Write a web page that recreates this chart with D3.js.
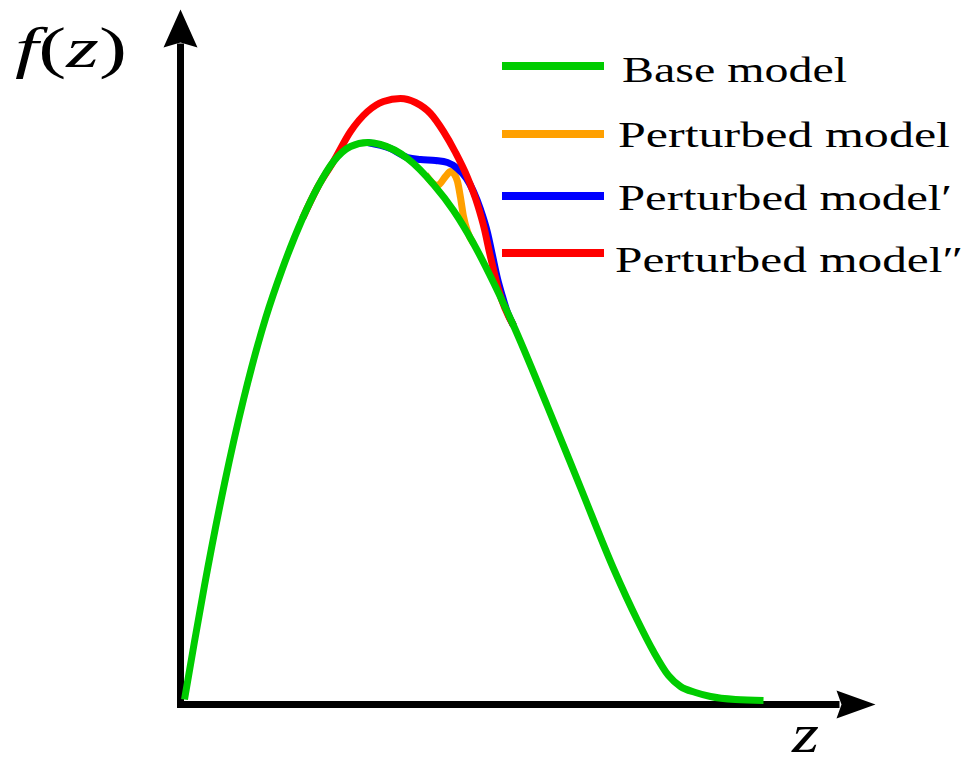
<!DOCTYPE html>
<html>
<head>
<meta charset="utf-8">
<script src="https://cdn.jsdelivr.net/npm/d3@7"></script>
<style>
  html, body { margin: 0; padding: 0; background: #fff; }
  svg { display: block; }
</style>
</head>
<body>
<svg id="chart" width="971" height="764"></svg>
<script>
// ---- data (z, f(z)) ----
const baseZ = [0.04, 0.14, 0.24, 0.44, 0.63, 0.85, 1.02, 1.22, 1.37, 1.53, 1.70, 1.87, 2.00, 2.27, 2.53, 2.73, 2.93, 3.13, 3.33, 3.67, 4.00, 4.33, 4.57, 4.73, 4.88, 5.00, 5.15, 5.30, 5.55, 5.83];
const baseF = [0.05, 0.63, 1.19, 2.21, 3.05, 3.86, 4.36, 4.86, 5.17, 5.43, 5.58, 5.62, 5.60, 5.46, 5.20, 4.94, 4.61, 4.22, 3.79, 2.98, 2.17, 1.36, 0.84, 0.53, 0.29, 0.18, 0.12, 0.08, 0.05, 0.04];

const pert1Z = [2.45, 2.57, 2.65, 2.70, 2.74, 2.77, 2.80, 2.83, 2.87, 2.93];
const pert1F = [5.30, 5.19, 5.28, 5.33, 5.30, 5.23, 5.07, 4.88, 4.73, 4.61];

const pert2Z = [1.87, 2.10, 2.27, 2.40, 2.55, 2.67, 2.77, 2.86, 2.93, 3.00, 3.07, 3.12, 3.17, 3.22, 3.27, 3.33];
const pert2F = [5.62, 5.56, 5.47, 5.45, 5.44, 5.42, 5.36, 5.26, 5.13, 4.95, 4.72, 4.49, 4.26, 4.08, 3.92, 3.79];

const pert3Z = [1.22, 1.37, 1.53, 1.70, 1.87, 2.03, 2.20, 2.35, 2.50, 2.63, 2.75, 2.87, 2.97, 3.04, 3.09, 3.14, 3.18, 3.33];
const pert3F = [4.86, 5.17, 5.43, 5.73, 5.93, 6.03, 6.06, 6.02, 5.91, 5.73, 5.52, 5.27, 5.00, 4.75, 4.52, 4.31, 4.15, 3.79];

const seriesNames = ["Base model", "Perturbed model", "Perturbed model\u2032", "Perturbed model\u2033"];
const seriesColors = ["#00cc00", "#ffa000", "#0000ff", "#ff0000"];

// ---- drawing ----
const svg = d3.select("#chart");
const x = d3.scaleLinear().domain([0, 6.95]).range([180.5, 875.5]);
const y = d3.scaleLinear().domain([0, 6.95]).range([704.5, 9.5]);

const zip = (zs, fs) => zs.map((z, i) => [z, fs[i]]);
const line = d3.line().x(d => x(d[0])).y(d => y(d[1])).curve(d3.curveMonotoneX);

// axes (lines with arrow heads)
const x0 = x(0), y0 = y(0);
const yTip = y(6.95), xTip = x(6.95);
svg.append("line").attr("x1", x0).attr("y1", y0 + 3.5).attr("x2", x0).attr("y2", yTip + 34)
  .attr("stroke", "#000").attr("stroke-width", 7);
svg.append("line").attr("x1", x0 - 3.5).attr("y1", y0).attr("x2", xTip - 36).attr("y2", y0)
  .attr("stroke", "#000").attr("stroke-width", 7);
svg.append("path")
  .attr("d", `M${x0},${yTip} L${x0 - 17},${yTip + 38} L${x0},${yTip + 33} L${x0 + 17},${yTip + 38} Z`)
  .attr("fill", "#000");
svg.append("path")
  .attr("d", `M${xTip},${y0} L${xTip - 39},${y0 - 14} L${xTip - 34},${y0} L${xTip - 39},${y0 + 14} Z`)
  .attr("fill", "#000");

// curves: perturbed first, base on top
const curves = [
  [zip(pert1Z, pert1F), seriesColors[1]],
  [zip(pert2Z, pert2F), seriesColors[2]],
  [zip(pert3Z, pert3F), seriesColors[3]],
  [zip(baseZ, baseF), seriesColors[0]]
];
curves.forEach(([d, c]) => {
  svg.append("path").datum(d).attr("d", line)
    .attr("fill", "none").attr("stroke", c).attr("stroke-width", 7)
    .attr("stroke-linejoin", "round").attr("stroke-linecap", "butt");
});

// axis labels
const serif = "'Liberation Serif', 'DejaVu Serif', serif";
const fl = svg.append("text").attr("x", 15).attr("y", 67)
  .attr("font-family", serif).attr("font-size", 58).attr("fill", "#000")
  .attr("textLength", 112).attr("lengthAdjust", "spacingAndGlyphs");
fl.append("tspan").attr("font-style", "italic").text("f");
fl.append("tspan").text("(");
fl.append("tspan").attr("font-style", "italic").text("z");
fl.append("tspan").text(")");

svg.append("text").attr("x", 792).attr("y", 752)
  .attr("font-family", serif).attr("font-size", 54).attr("font-style", "italic")
  .attr("textLength", 27).attr("lengthAdjust", "spacingAndGlyphs")
  .text("z");

// legend
const legY = [66, 134, 196, 253];
const legBase = [82, 147, 210, 272];
const legTX = [622, 618, 618, 615];
const legLen = [225, 332, 334, 348];
seriesNames.forEach((name, i) => {
  svg.append("line").attr("x1", 502).attr("x2", 604).attr("y1", legY[i]).attr("y2", legY[i])
    .attr("stroke", seriesColors[i]).attr("stroke-width", 8);
  svg.append("text").attr("x", legTX[i]).attr("y", legBase[i])
    .attr("font-family", serif).attr("font-size", 35).attr("fill", "#000")
    .attr("textLength", legLen[i]).attr("lengthAdjust", "spacingAndGlyphs")
    .text(name);
});
</script>
</body>
</html>
